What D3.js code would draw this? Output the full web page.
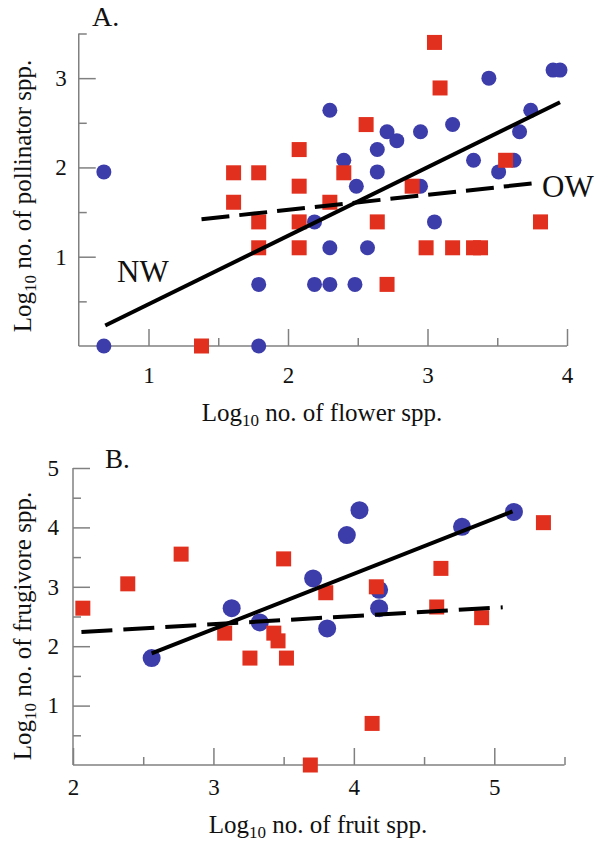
<!DOCTYPE html>
<html>
<head>
<meta charset="utf-8">
<script src="https://cdn.jsdelivr.net/npm/d3@7/dist/d3.min.js"></script>
<style>
  body { margin: 0; background: #fff; }
  svg { display: block; }
  text { font-family: "Liberation Serif", "Times New Roman", serif; fill: #111; }
</style>
</head>
<body>
<svg id="chart" width="602" height="841"></svg>
<script>
// ---------- Panel A data ----------
const aBlueX = [0.68,0.68,1.79,1.79,2.19,2.30,2.48,2.19,2.30,2.57,2.49,2.95,3.05,2.30,2.40,2.64,2.64,2.71,2.78,2.95,3.18,3.44,3.33,3.51,3.62,3.66,3.74,3.90,3.95];
const aBlueY = [1.95,0,0,0.69,0.69,0.69,0.69,1.39,1.10,1.10,1.79,1.79,1.39,2.64,2.08,2.20,1.95,2.40,2.30,2.40,2.48,3.00,2.08,1.95,2.08,2.40,2.64,3.09,3.09];
const aRedX = [1.38,1.61,1.61,1.79,1.79,1.79,2.08,2.08,2.08,2.08,2.30,2.40,2.56,2.64,2.71,2.89,2.99,3.05,3.09,3.18,3.33,3.38,3.56,3.81];
const aRedY = [0,1.94,1.61,1.94,1.39,1.10,2.20,1.79,1.39,1.10,1.61,1.94,2.48,1.39,0.69,1.79,1.10,3.40,2.89,1.10,1.10,1.10,2.08,1.39];
const aNWLine = [[0.69,0.23],[3.95,2.73]];
const aOWLine = [[1.38,1.42],[3.75,1.82]];
const aXMajor = [1,2,3,4];
const aXMinor = [1.5,2.5,3.5];
const aYMajor = [1,2,3];
const aYMinor = [0.5,1.5,2.5,3.5];

// ---------- Panel B data ----------
const bBlueX = [2.56,3.13,3.33,3.71,3.81,3.95,4.04,4.18,4.18,4.77,5.14];
const bBlueY = [1.80,2.64,2.40,3.14,2.30,3.87,4.29,2.95,2.64,4.01,4.26];
const bRedX = [2.07,2.39,2.77,3.08,3.26,3.43,3.46,3.52,3.50,3.80,3.69,4.13,4.16,4.62,4.59,4.91,5.35];
const bRedY = [2.64,3.05,3.55,2.22,1.80,2.22,2.09,1.80,3.47,2.90,0,0.70,3.00,3.31,2.66,2.48,4.08];
const bSolidLine = [[2.56,1.88],[5.13,4.27]];
const bDashLine = [[2.06,2.24],[5.06,2.655]];
const bXMajor = [2,3,4,5];
const bXMinor = [2.5,3.5,4.5,5.5];
const bYMajor = [1,2,3,4,5];
const bYMinor = [0.5,1.5,2.5,3.5,4.5];

const BLUE = "#3c3caa", RED = "#e2301f", AXIS = "#808080";
const svg = d3.select("#chart");

function zip(xs, ys){ return xs.map((x,i)=>[x, ys[i]]); }

function panel(cfg){
  const g = svg.append("g");
  const x = d3.scaleLinear().domain(cfg.xDomain).range(cfg.xRange);
  const y = d3.scaleLinear().domain(cfg.yDomain).range(cfg.yRange);
  const x0 = cfg.yRange[0], y0 = cfg.xRange[0];

  function styleAxis(sel){
    sel.select(".domain").attr("stroke", AXIS).attr("stroke-width", 1.5);
    sel.selectAll(".tick line").attr("stroke", AXIS).attr("stroke-width", 1.5);
    sel.selectAll(".tick text").attr("font-family","Liberation Serif, serif").attr("font-size", 23).attr("fill","#111");
  }
  // x axis
  g.append("g").attr("transform",`translate(0,${x0})`)
    .call(d3.axisBottom(x).tickValues(cfg.xMinor).tickSize(-8).tickSizeOuter(0).tickFormat(""))
    .call(styleAxis);
  g.append("g").attr("transform",`translate(0,${x0})`)
    .call(d3.axisBottom(x).tickValues(cfg.xMajor).tickSize(-17).tickSizeOuter(0).tickPadding(cfg.xPad).tickFormat(d3.format("d")))
    .call(styleAxis);
  // y axis
  g.append("g").attr("transform",`translate(${y0},0)`)
    .call(d3.axisLeft(y).tickValues(cfg.yMinor).tickSize(-8).tickSizeOuter(0).tickFormat(""))
    .call(styleAxis);
  g.append("g").attr("transform",`translate(${y0},0)`)
    .call(d3.axisLeft(y).tickValues(cfg.yMajor).tickSize(-17).tickSizeOuter(0).tickPadding(cfg.yPad).tickFormat(d3.format("d")))
    .call(styleAxis);
  g.selectAll(".domain").attr("d", null);
  // explicit axis lines
  g.append("line").attr("x1", cfg.xRange[0]).attr("x2", cfg.xRange[1]).attr("y1", x0).attr("y2", x0)
    .attr("stroke", AXIS).attr("stroke-width", 1.5);
  g.append("line").attr("x1", y0).attr("x2", y0).attr("y1", cfg.yRange[0]).attr("y2", cfg.yRange[1])
    .attr("stroke", AXIS).attr("stroke-width", 1.5);

  // circles
  g.append("g").selectAll("circle").data(zip(cfg.blueX, cfg.blueY)).join("circle")
    .attr("cx", d=>x(d[0])).attr("cy", d=>y(d[1])).attr("r", cfg.r).attr("fill", BLUE);
  // squares
  g.append("g").selectAll("rect").data(zip(cfg.redX, cfg.redY)).join("rect")
    .attr("x", d=>x(d[0])-cfg.s/2).attr("y", d=>y(d[1])-cfg.s/2)
    .attr("width", cfg.s).attr("height", cfg.s).attr("fill", RED);
  // lines
  const line = d3.line().x(d=>x(d[0])).y(d=>y(d[1]));
  g.append("path").attr("d", line(cfg.solid)).attr("fill","none").attr("stroke","#000").attr("stroke-width",4);
  g.append("path").attr("d", line(cfg.dashed)).attr("fill","none").attr("stroke","#000").attr("stroke-width",4)
    .attr("stroke-dasharray", cfg.dash);

  // axis titles
  function title(t, word){
    t.attr("font-size", 25);
    t.append("tspan").text("Log");
    t.append("tspan").attr("font-size", 17).attr("dy", 5).text("10");
    t.append("tspan").attr("dy", -5).text("\u00a0no. of " + word + " spp.");
  }
  g.append("text").attr("x", cfg.xTitle[0]).attr("y", cfg.xTitle[1]).attr("text-anchor","middle")
    .call(t=>title(t, cfg.xWord));
  g.append("text").attr("transform", `translate(${cfg.yTitle[0]},${cfg.yTitle[1]}) rotate(-90)`)
    .attr("text-anchor","middle").call(t=>title(t, cfg.yWord));
  // panel letter
  g.append("text").attr("x", cfg.letterPos[0]).attr("y", cfg.letterPos[1])
    .attr("font-size", cfg.letterSize).text(cfg.letter);
  return g;
}

const gA = panel({
  xDomain:[0.5,4], xRange:[78.75,567], yDomain:[0,3.5], yRange:[346,33.5],
  xMajor:aXMajor, xMinor:aXMinor, yMajor:aYMajor, yMinor:aYMinor, xPad:21, yPad:12,
  blueX:aBlueX, blueY:aBlueY, redX:aRedX, redY:aRedY, r:7.5, s:15,
  solid:aNWLine, dashed:aOWLine, dash:"28,10",
  xTitle:[322,421], yTitle:[31,196], xWord:"flower", yWord:"pollinator",
  letter:"A.", letterPos:[92,26], letterSize:28
});
gA.append("text").attr("x",117).attr("y",282).attr("font-size",31).text("NW");
gA.append("text").attr("x",542).attr("y",197).attr("font-size",31).text("OW");

panel({
  xDomain:[2,5.5], xRange:[73,564.5], yDomain:[0,5], yRange:[765,468],
  xMajor:bXMajor, xMinor:bXMinor, yMajor:bYMajor, yMinor:bYMinor, xPad:14, yPad:14,
  blueX:bBlueX, blueY:bBlueY, redX:bRedX, redY:bRedY, r:9, s:15,
  solid:bSolidLine, dashed:bDashLine, dash:"31,11",
  xTitle:[318,833], yTitle:[31,626], xWord:"fruit", yWord:"frugivore",
  letter:"B.", letterPos:[105,468], letterSize:27
});
</script>
</body>
</html>
